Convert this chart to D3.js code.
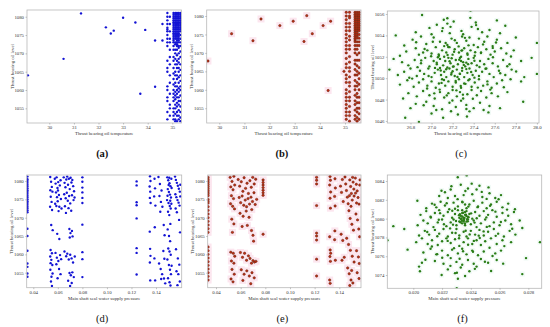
<!DOCTYPE html>
<html>
<head>
<meta charset="utf-8">
<script src="https://cdn.jsdelivr.net/npm/d3@7"></script>
<style>
body{margin:0;background:#fff}
text{font-family:"Liberation Serif","DejaVu Serif",serif}
</style>
</head>
<body>
<div id="chart"></div>
<script>
// tick labels
const tempTicks = [30,31,32,33,34,35];
const levelTicks = [1055,1060,1065,1070,1075,1080];
const tempTicksC = [26.8,27.0,27.2,27.4,27.6,27.8,28.0];
const levelTicksC = [1046,1048,1050,1052,1054,1056];
const pressTicks = [0.04,0.06,0.08,0.10,0.12,0.14];
const pressTicksF = [0.020,0.022,0.024,0.026,0.028];
const levelTicksF = [1074,1076,1078,1080,1082,1084];

// (a) temperature vs level, scattered points + dense columns
const aPoints = [[31.29,1080.9],[33.0,1079.7],[32.3,1077.1],[33.5,1078.4],[32.5,1075.4],[32.62,1076.2],[33.9,1076.4],[34.6,1078.0],[34.3,1073.5],[34.6,1073.5],[30.58,1068.5],[29.13,1064.0],[34.3,1060.9],[33.7,1059.0]];
const aColX = [34.80,34.90,35.05,35.12,35.19,35.26,35.33];
const aColY = [
 [1081,1080,1079,1078,1077,1076.5,1076,1075,1074,1073,1072,1068,1066,1065,1061,1060,1058,1057,1054,1052],
 [1080,1078,1076,1074,1073,1071,1069,1067,1064,1062,1059,1056,1055,1053],
 [1081,1080.5,1080,1079.5,1079,1078.5,1078,1077.5,1077,1076.5,1076,1075.5,1075,1074.5,1074,1073.5,1073,1072,1071,1069,1068,1066,1064.5,1063,1061.5,1060,1059,1058,1057,1055,1054,1053,1052],
 [1081,1080.5,1080,1079.5,1079,1078.5,1078,1077.5,1077,1076.5,1076,1075.5,1075,1074.5,1074,1073,1072.5,1071,1070,1068.5,1067,1065,1064,1062,1061,1059.5,1058.5,1057.5,1056,1055,1053.5,1052,1051.5],
 [1081,1080.5,1080,1079.5,1079,1078.5,1078,1077.5,1077,1076.5,1076,1075.5,1075,1074.5,1074,1073.5,1073,1072.5,1072,1071,1069.5,1068,1067,1066,1064,1063,1061,1060,1059,1058,1056.5,1055.5,1054,1053,1051.5],
 [1081,1080.5,1080,1079.5,1079,1078.5,1078,1077.5,1077,1076.5,1076,1075.5,1075,1074.5,1074,1073.5,1073,1072,1071.5,1070,1068.5,1067.5,1066,1065,1063.5,1062,1060.5,1059.5,1058,1057,1056,1054.5,1053,1052],
 [1081,1080.5,1080,1079.5,1079,1078.5,1078,1077.5,1077,1076.5,1076,1075,1074,1073,1072,1070.5,1069,1067,1065.5,1064,1062.5,1061,1060,1058.5,1057,1055.5,1054,1052.5,1051.5]
];

// (b)
const bPoints = [[29.55,1067.8],[30.49,1075.2],[31.34,1073.3],[31.66,1079.2],[32.41,1077.4],[32.94,1078.6],[33.48,1080.1],[33.37,1073.1],[33.7,1075.2],[34.13,1077.4],[34.43,1078.6],[34.33,1059.8],[34.96,1065.0]];
const bColX = [35.05,35.18,35.40,35.48,35.56];
const bColY = [
 [1081,1080,1079,1078,1077,1076,1075,1074,1073,1072,1071,1070,1068.5,1067,1066,1064,1063,1062,1060,1059,1058,1057,1056,1055,1054,1053,1052],
 [1081,1080,1079.5,1078,1077,1076,1074.5,1073.5,1072,1071,1069,1067.5,1066,1065,1063.5,1062,1061,1059.5,1058,1057,1055.5,1054,1053,1051.5],
 [1081,1080.5,1080,1079.5,1079,1078.5,1078,1077.5,1077,1076.5,1076,1075.5,1075,1074.5,1074,1073.5,1073,1072,1071,1070,1068,1067,1065.5,1064,1062.5,1061,1060,1058.5,1057,1056,1054.5,1053,1052],
 [1081,1080.5,1080,1079.5,1079,1078.5,1078,1077.5,1077,1076.5,1076,1075.5,1075,1074.5,1074,1073,1072,1071,1069.5,1068,1066.5,1065,1064,1062,1061,1059,1058,1056.5,1055,1054,1052.5,1051.5],
 [1081,1080.5,1080,1079.5,1079,1078.5,1078,1077.5,1077,1076.5,1076,1075,1074,1073,1072,1070,1068,1066,1064.5,1063,1061.5,1060,1058,1056.5,1055,1053.5,1052]
];

// (c)
const cPoints = [
 [26.91,1055.9],[27.37,1056.3],[27.21,1055.3],[27.18,1054.8],[27.15,1055.1],[27.62,1055.4],[27.05,1055.0],[27.15,1055.6],[27.42,1055.2],
 [26.66,1054.0],[27.44,1054.6],[27.48,1054.3],[26.98,1054.7],[27.1,1054.4],[27.3,1054.1],[27.55,1054.5],[27.65,1054.2],[26.85,1054.3],[27.0,1054.1],[27.38,1054.8],[27.7,1054.9],
 [26.82,1053.6],[26.95,1053.2],[27.02,1053.8],[27.08,1053.4],[27.12,1053.0],[27.19,1053.7],[27.24,1053.3],[27.29,1053.9],[27.33,1053.5],[27.4,1053.1],[27.45,1053.7],[27.5,1053.4],[27.58,1053.0],[27.62,1053.6],[27.72,1053.3],[27.8,1053.8],[26.9,1053.9],[27.15,1053.1],[27.36,1053.8],[27.53,1053.9],[28.0,1053.3],
 [26.7,1052.1],[26.76,1052.5],[26.85,1052.8],[26.88,1052.2],[26.96,1052.6],[27.0,1052.3],[27.04,1052.9],[27.07,1052.1],[27.1,1052.6],[27.14,1052.4],[27.17,1052.9],[27.2,1052.2],[27.22,1052.7],[27.26,1052.4],[27.28,1052.0],[27.31,1052.8],[27.34,1052.3],[27.37,1052.6],[27.41,1052.1],[27.44,1052.9],[27.47,1052.4],[27.52,1052.7],[27.56,1052.2],[27.6,1052.5],[27.66,1052.8],[27.71,1052.3],[27.78,1052.6],[26.92,1052.4],[27.12,1052.0],[27.29,1052.6],
 [26.64,1051.8],[26.72,1051.5],[26.78,1051.2],[26.84,1051.7],[26.9,1051.4],[26.94,1051.9],[26.98,1051.1],[27.02,1051.6],[27.05,1051.3],[27.08,1051.8],[27.11,1051.2],[27.13,1051.6],[27.16,1051.9],[27.18,1051.4],[27.21,1051.1],[27.23,1051.7],[27.25,1051.3],[27.27,1051.9],[27.3,1051.5],[27.32,1051.1],[27.35,1051.8],[27.38,1051.4],[27.4,1051.9],[27.43,1051.2],[27.46,1051.6],[27.5,1051.3],[27.54,1051.8],[27.58,1051.4],[27.63,1051.1],[27.68,1051.7],[27.74,1051.3],[27.85,1051.6],[27.95,1051.9],[27.15,1051.0],[27.28,1051.6],[27.33,1051.45],[27.06,1051.95],
 [26.6,1050.8],[26.68,1050.3],[26.74,1050.6],[26.8,1050.9],[26.86,1050.2],[26.89,1050.7],[26.93,1050.4],[26.97,1050.9],[27.0,1050.1],[27.03,1050.5],[27.06,1050.8],[27.09,1050.3],[27.12,1050.6],[27.14,1050.1],[27.17,1050.9],[27.19,1050.5],[27.22,1050.2],[27.24,1050.8],[27.27,1050.4],[27.29,1050.7],[27.31,1050.1],[27.34,1050.5],[27.36,1050.9],[27.39,1050.3],[27.42,1050.7],[27.45,1050.2],[27.48,1050.6],[27.52,1050.9],[27.55,1050.4],[27.59,1050.1],[27.64,1050.7],[27.7,1050.3],[27.76,1050.8],[27.88,1050.1],[28.0,1050.4],[27.08,1050.95],[27.2,1050.65],[27.33,1050.85],
 [26.7,1049.4],[26.77,1049.8],[26.83,1049.2],[26.88,1049.6],[26.92,1049.9],[26.96,1049.3],[27.0,1049.7],[27.04,1049.1],[27.07,1049.5],[27.1,1049.9],[27.13,1049.3],[27.16,1049.7],[27.2,1049.2],[27.23,1049.6],[27.26,1049.9],[27.28,1049.1],[27.31,1049.5],[27.35,1049.8],[27.38,1049.2],[27.41,1049.6],[27.45,1049.9],[27.49,1049.3],[27.53,1049.7],[27.57,1049.1],[27.62,1049.5],[27.67,1049.8],[27.75,1049.9],[27.85,1049.7],
 [26.73,1048.1],[26.78,1048.6],[26.86,1048.3],[26.92,1048.8],[26.98,1048.4],[27.03,1048.1],[27.08,1048.7],[27.12,1048.2],[27.16,1048.6],[27.2,1048.9],[27.24,1048.3],[27.27,1048.7],[27.3,1048.1],[27.34,1048.5],[27.38,1048.9],[27.43,1048.4],[27.47,1048.8],[27.52,1048.2],[27.57,1048.6],[27.63,1048.3],[27.72,1048.7],
 [26.8,1047.2],[26.85,1047.6],[26.95,1047.8],[27.02,1047.4],[27.1,1047.1],[27.17,1047.7],[27.23,1047.3],[27.28,1047.9],[27.33,1047.5],[27.4,1047.2],[27.46,1047.7],[27.55,1047.4],[27.65,1047.2],[27.87,1047.8],
 [26.75,1046.3],[27.11,1046.3],[26.88,1045.9],[27.54,1046.8],[27.0,1046.7],[27.25,1046.6],[27.36,1046.9],
 [27.263,1051.72],[27.187,1050.34],[27.342,1052.18],[27.118,1049.83],[27.291,1050.96],[27.214,1052.47],[27.376,1050.58],[27.049,1051.44],[27.158,1052.91],[27.322,1049.47],[27.407,1051.63],[27.087,1050.72],[27.236,1048.86],[27.469,1052.36],[26.972,1050.21],[27.134,1053.29],[27.351,1053.07],[27.198,1047.92],[27.512,1050.88],[26.934,1052.73],
 [27.284,1054.42],[27.026,1048.58],[27.439,1049.12],[27.171,1051.58],[27.306,1051.24],[27.246,1050.11],[26.867,1051.03],[27.583,1051.96],[27.068,1052.22],[27.392,1048.07],[27.221,1053.55],[27.144,1048.39],[27.489,1053.16],[27.012,1053.41],[27.331,1047.12],[26.816,1049.96],[27.652,1050.46],[27.277,1049.28],[27.106,1054.68],[27.423,1054.96],
 [26.958,1049.04],[27.558,1048.93],[27.185,1046.91],[27.368,1055.64],[26.741,1053.05],[27.719,1051.12],[27.045,1047.02],[27.612,1053.34],[26.789,1050.04],[27.803,1050.62],[27.257,1052.97],[27.139,1050.84],[27.317,1053.77],[27.203,1051.08],[27.455,1051.04],[27.095,1049.56],[27.361,1049.91],[26.902,1051.66],[27.531,1049.42],[27.173,1054.21],
 [27.298,1048.46],[26.996,1052.05],[27.414,1052.43],[27.229,1049.74],[27.077,1048.93],[27.581,1052.83],[26.854,1053.36],[27.686,1049.15],[27.336,1046.42],[27.116,1055.46],[27.494,1047.03],[26.925,1047.47],[27.754,1052.02],[27.268,1050.42],[27.191,1051.86],[27.407,1050.05],[27.033,1050.96],[27.347,1051.31],[27.152,1052.16],[27.284,1052.58]
];

// (d)
const dColX = 0.0352;
const dColY = [1081.2,1080.5,1080,1079.5,1079,1078.5,1078,1077.5,1077,1076.5,1076,1075.5,1075,1074.5,1074,1073.5,1073,1072.5,1072,1071.5,1067,1065,1061,1057.5,1056.6,1054.8,1053.9];
const dPoints = [
 [0.0538,1081.1],[0.0545,1079.8],[0.0551,1078.4],[0.0539,1077.5],[0.0556,1077.1],[0.0542,1075.7],[0.0549,1074.3],[0.0537,1073.0],[0.0553,1072.1],[0.0546,1068.0],[0.0558,1066.6],[0.0541,1061.2],[0.0552,1060.3],[0.0538,1059.4],[0.0547,1058.5],[0.0541,1057.6],[0.0555,1057.1],[0.0539,1055.8],[0.0548,1053.9],[0.0544,1052.6],[0.0552,1051.4],[0.0557,1054.8],
 [0.0575,1080.6],[0.0582,1079.3],[0.0590,1081.0],[0.0597,1078.1],[0.0603,1079.7],[0.0585,1076.9],[0.0593,1075.6],[0.0601,1077.4],[0.0609,1076.2],[0.0616,1078.8],[0.0622,1080.2],[0.0578,1073.8],[0.0588,1073.2],[0.0599,1074.5],[0.0612,1073.0],[0.0625,1075.1],[0.0630,1072.5],[0.0606,1071.8],[0.0595,1065.6],[0.0612,1064.2],[0.0581,1060.4],[0.0592,1059.1],[0.0604,1058.2],[0.0618,1059.8],[0.0627,1058.7],[0.0588,1057.3],[0.0610,1056.0],[0.0622,1054.6],[0.0598,1053.5],
 [0.0648,1081.0],[0.0655,1079.5],[0.0662,1078.3],[0.0669,1080.4],[0.0676,1081.2],[0.0683,1079.0],[0.0690,1080.6],[0.0697,1077.8],[0.0704,1080.9],[0.0711,1079.6],[0.0718,1080.3],[0.0725,1078.6],[0.0732,1077.2],[0.0652,1076.4],[0.0664,1075.3],[0.0673,1076.8],[0.0681,1074.6],[0.0692,1075.9],[0.0701,1073.9],[0.0715,1076.1],[0.0728,1074.8],[0.0736,1075.5],[0.0658,1073.1],[0.0687,1072.6],[0.0709,1071.9],[0.0666,1071.3],[0.0694,1066.9],[0.0703,1065.8],[0.0715,1066.4],[0.0697,1064.6],[0.0720,1064.9],[0.0654,1060.8],[0.0668,1059.5],[0.0677,1060.2],[0.0689,1058.6],[0.0701,1059.9],[0.0712,1058.9],[0.0724,1057.8],[0.0738,1059.4],[0.0695,1054.9],[0.0706,1054.3],[0.0718,1055.1],[0.0730,1053.8],[0.0684,1052.8],[0.0700,1051.4],[0.0713,1052.2],
 [0.0800,1081.0],[0.0800,1079.8],[0.0800,1078.2],[0.0800,1076.9],[0.0800,1075.4],[0.0800,1074.0],[0.0800,1068.1],[0.0800,1060.6],[0.0800,1058.7],[0.0800,1053.8],
 [0.1242,1079.9],[0.1242,1078.8],[0.1242,1074.2],[0.1242,1073.4],[0.1242,1069.8],[0.1242,1061.7],[0.1242,1060.4],[0.1242,1054.5],
 [0.1351,1081.3],[0.1355,1080.0],[0.1348,1078.5],[0.1353,1077.1],[0.1350,1075.4],[0.1356,1074.0],[0.1349,1066.2],[0.1352,1061.5],[0.1355,1059.6],[0.1350,1057.8],[0.1353,1052.9],[0.1388,1080.6],[0.1392,1078.0],[0.1385,1075.8],[0.1395,1073.3],[0.1390,1067.4],[0.1387,1058.9],[0.1393,1052.9],
 [0.1420,1081.1],[0.1432,1079.2],[0.1445,1077.4],[0.1428,1075.9],[0.1440,1074.3],[0.1452,1073.0],[0.1435,1071.6],[0.1463,1068.0],[0.1470,1065.2],[0.1425,1057.5],[0.1438,1056.0],[0.1450,1054.6],[0.1465,1053.4],[0.1475,1052.1],[0.1468,1058.8],[0.1460,1060.9],[0.1442,1053.3],
 [0.1492,1081.0],[0.1500,1080.2],[0.1510,1079.4],[0.1518,1078.6],[0.1496,1077.8],[0.1505,1077.0],[0.1514,1076.3],[0.1522,1075.5],[0.1490,1074.8],[0.1502,1074.0],[0.1512,1073.2],[0.1520,1072.5],[0.1498,1071.6],[0.1508,1070.7],[0.1517,1068.3],[0.1495,1066.8],[0.1506,1065.0],[0.1515,1063.6],[0.1500,1061.6],[0.1510,1060.8],[0.1520,1059.9],[0.1493,1058.6],[0.1505,1057.1],[0.1514,1055.8],[0.1522,1054.6],[0.1498,1053.5],[0.1510,1052.4],[0.1518,1051.5],[0.1525,1080.6],[0.1527,1078.1],[0.1525,1073.8],[0.1527,1056.9],[0.1503,1078.9],[0.1494,1076.0],[0.1516,1074.6],[0.1508,1080.9],
 [0.1555,1081.2],[0.1562,1080.3],[0.1570,1079.5],[0.1578,1078.7],[0.1586,1077.9],[0.1594,1077.1],[0.1558,1076.4],[0.1566,1075.6],[0.1575,1074.8],[0.1584,1074.1],[0.1592,1073.3],[0.1560,1072.5],[0.1570,1071.5],[0.1588,1069.4],[0.1596,1066.0],[0.1563,1061.4],[0.1578,1058.9],[0.1590,1057.2],[0.1567,1055.4],[0.1582,1054.6],[0.1594,1052.6],[0.1575,1051.6],[0.1598,1079.0],[0.1598,1075.8]
];

// (e)
const eColX = 0.0336;
const eColY = [1081,1080.5,1080,1079.5,1079,1078.5,1078,1077.5,1077,1076.5,1076,1075,1074.5,1074,1073,1072,1071,1070,1069,1068,1067,1066,1062,1061,1060,1059,1058,1057,1056,1055,1054,1053];
const ePoints = [
 [0.0515,1081.0],[0.0530,1079.9],[0.0545,1081.3],[0.0520,1078.4],[0.0538,1077.6],[0.0552,1078.9],[0.0525,1076.0],[0.0542,1075.2],[0.0518,1073.8],[0.0535,1073.1],[0.0550,1072.4],[0.0528,1069.6],[0.0545,1068.3],[0.0533,1066.0],[0.0520,1060.6],[0.0540,1060.3],[0.0552,1059.5],[0.0525,1058.2],[0.0545,1057.6],[0.0530,1055.9],[0.0548,1054.6],[0.0522,1053.3],[0.0538,1052.5],
 [0.0580,1080.4],[0.0592,1078.6],[0.0605,1079.8],[0.0618,1077.2],[0.0628,1080.9],[0.0640,1078.0],[0.0652,1079.4],[0.0663,1076.6],[0.0675,1080.1],[0.0686,1078.3],[0.0698,1081.0],[0.0710,1079.2],[0.0722,1080.5],[0.0588,1075.5],[0.0600,1074.1],[0.0612,1075.9],[0.0625,1073.4],[0.0637,1074.8],[0.0648,1073.0],[0.0660,1075.2],[0.0672,1073.7],[0.0684,1075.6],[0.0696,1074.4],[0.0708,1076.8],[0.0718,1073.6],[0.0730,1075.0],[0.0595,1071.2],[0.0620,1070.4],[0.0645,1071.8],[0.0668,1070.1],[0.0690,1072.2],[0.0612,1067.6],[0.0654,1067.9],[0.0688,1066.5],[0.0700,1065.2],[0.0705,1063.6],[0.0598,1060.5],[0.0615,1059.2],[0.0632,1060.3],[0.0648,1058.4],[0.0663,1059.6],[0.0676,1058.9],[0.0688,1057.6],[0.0700,1058.3],[0.0712,1057.9],[0.0724,1058.1],[0.0605,1055.8],[0.0628,1054.6],[0.0650,1055.5],[0.0670,1054.1],[0.0692,1055.0],[0.0710,1053.6],[0.0618,1052.9],[0.0682,1052.0],
 [0.0782,1080.3],[0.0782,1079.6],[0.0782,1078.9],[0.0782,1078.2],[0.0782,1077.5],[0.0782,1076.8],[0.0782,1076.1],[0.0782,1065.5],
 [0.1216,1081.0],[0.1216,1080.2],[0.1216,1079.2],[0.1216,1073.3],[0.1216,1065.8],[0.1216,1065.0],[0.1216,1063.9],[0.1216,1058.7],[0.1216,1054.1],
 [0.1325,1081.2],[0.1328,1080.2],[0.1322,1078.9],[0.1330,1077.0],[0.1325,1075.3],[0.1328,1072.6],[0.1322,1064.8],[0.1326,1061.2],[0.1330,1060.3],[0.1324,1059.4],[0.1328,1058.1],[0.1322,1053.0],[0.1326,1052.1],[0.1365,1080.6],[0.1368,1078.1],[0.1362,1075.8],[0.1366,1073.2],[0.1364,1066.4],[0.1368,1058.4],[0.1362,1064.0],
 [0.1410,1078.6],[0.1418,1076.9],[0.1425,1080.4],[0.1432,1074.4],[0.1415,1065.5],[0.1428,1063.8],[0.1422,1058.4],[0.1440,1059.2],[0.1446,1081.1],[0.1452,1079.2],[0.1458,1077.4],[0.1465,1075.6],[0.1472,1073.8],[0.1478,1071.9],[0.1485,1080.3],[0.1492,1078.5],[0.1498,1076.6],[0.1505,1074.8],[0.1512,1079.7],[0.1518,1077.8],[0.1482,1076.0],[0.1495,1073.1],[0.1508,1081.0],[0.1520,1075.9],[0.1488,1069.8],[0.1502,1068.2],[0.1515,1066.6],[0.1460,1064.4],[0.1475,1062.7],[0.1490,1061.1],[0.1505,1059.5],[0.1520,1057.9],[0.1468,1056.3],[0.1480,1054.7],[0.1495,1053.0],[0.1510,1052.2],[0.1500,1055.6],[0.1485,1051.5],[0.1530,1080.8],[0.1538,1079.1],[0.1545,1077.3],[0.1552,1075.5],[0.1560,1073.7],[0.1566,1078.9],[0.1535,1071.0],[0.1548,1069.4],[0.1558,1066.9],[0.1565,1064.8],[0.1540,1061.0],[0.1555,1059.3],[0.1562,1057.5],[0.1545,1055.0],[0.1560,1053.4],[0.1568,1080.3],[0.1540,1074.0],[0.1532,1076.7]
];

// (f)
const fPoints = [
 [0.01861,1079.2],[0.01937,1078.9],[0.0182,1077.7],[0.0196,1076.7],[0.02028,1081.9],[0.02309,1084.4],[0.02371,1084.6],[0.02881,1077.5],[0.02784,1075.8],[0.02758,1074.1],[0.02758,1079.0],[0.0274,1079.8],[0.02707,1081.0],[0.02302,1072.6],[0.02197,1074.0],[0.02046,1074.4],[0.0204,1074.9],
 [0.0222,1082.8],[0.0226,1083.1],[0.0229,1082.4],[0.0233,1083.6],[0.0238,1083.2],[0.0241,1082.6],[0.0244,1083.1],[0.0248,1082.3],[0.0253,1082.7],[0.0257,1082.2],[0.0224,1082.2],[0.0235,1082.5],[0.0246,1083.5],[0.0251,1082.1],[0.0218,1082.4],[0.0261,1082.5],
 [0.0209,1081.1],[0.0213,1081.6],[0.0216,1081.2],[0.0219,1081.8],[0.0222,1081.4],[0.0225,1081.0],[0.0228,1081.7],[0.0231,1081.3],[0.0234,1081.8],[0.0237,1081.1],[0.0239,1081.5],[0.0242,1081.9],[0.0245,1081.3],[0.0248,1081.7],[0.0251,1081.1],[0.0254,1081.5],[0.0258,1081.8],[0.0262,1081.2],[0.0266,1081.6],[0.0236,1081.5],[0.0229,1081.05],
 [0.0205,1080.4],[0.0209,1080.8],[0.0212,1080.2],[0.0215,1080.6],[0.0218,1080.9],[0.0221,1080.3],[0.0224,1080.7],[0.0227,1080.1],[0.0229,1080.5],[0.0231,1080.9],[0.0233,1080.3],[0.0234,1080.6],[0.0235,1080.1],[0.0236,1080.4],[0.0237,1080.8],[0.0238,1080.2],[0.0239,1080.5],[0.0241,1080.0],[0.0243,1080.7],[0.0246,1080.3],[0.0249,1080.8],[0.0252,1080.4],[0.0255,1080.9],[0.0258,1080.2],[0.0262,1080.6],[0.0266,1080.3],[0.027,1080.7],[0.0234,1080.9],[0.0236,1080.7],[0.0232,1080.1],
 [0.0203,1079.3],[0.0207,1079.8],[0.021,1079.5],[0.0214,1079.1],[0.0217,1079.6],[0.022,1079.9],[0.0223,1079.2],[0.0226,1079.6],[0.0228,1079.9],[0.023,1079.3],[0.0232,1079.7],[0.0234,1079.5],[0.0235,1079.9],[0.0236,1079.3],[0.0237,1079.7],[0.0238,1079.9],[0.024,1079.4],[0.0242,1079.8],[0.0244,1079.1],[0.0247,1079.5],[0.025,1079.9],[0.0253,1079.2],[0.0256,1079.6],[0.026,1079.3],[0.0264,1079.8],[0.0268,1079.4],[0.0235,1079.7],[0.0233,1079.95],
 [0.0204,1078.2],[0.0208,1078.7],[0.0211,1078.3],[0.0215,1078.8],[0.0218,1078.4],[0.0221,1078.9],[0.0224,1078.1],[0.0227,1078.5],[0.023,1078.9],[0.0232,1078.2],[0.0235,1078.6],[0.0237,1078.1],[0.024,1078.7],[0.0243,1078.3],[0.0246,1078.8],[0.0249,1078.2],[0.0252,1078.6],[0.0256,1078.9],[0.0259,1078.4],[0.0263,1078.1],[0.0267,1078.7],[0.0271,1078.3],
 [0.0202,1077.5],[0.0206,1077.9],[0.021,1077.3],[0.0213,1077.7],[0.0217,1077.2],[0.022,1077.6],[0.0223,1077.9],[0.0226,1077.4],[0.0229,1077.8],[0.0232,1077.1],[0.0235,1077.5],[0.0238,1077.9],[0.0241,1077.3],[0.0244,1077.7],[0.0247,1077.2],[0.025,1077.6],[0.0254,1077.9],[0.0258,1077.3],[0.0262,1077.7],[0.0268,1077.5],
 [0.0207,1076.4],[0.0212,1076.8],[0.0216,1076.2],[0.022,1076.6],[0.0224,1076.1],[0.0227,1076.7],[0.0231,1076.3],[0.0234,1076.8],[0.0237,1076.2],[0.0241,1076.6],[0.0245,1076.1],[0.0249,1076.5],[0.0253,1076.9],[0.0257,1076.3],[0.0261,1076.6],
 [0.0206,1075.3],[0.0215,1075.5],[0.0221,1075.2],[0.0226,1075.8],[0.023,1075.4],[0.0234,1075.1],[0.0238,1075.6],[0.0242,1075.2],[0.0247,1075.7],[0.0252,1075.3],[0.0258,1075.6],
 [0.0224,1074.6],[0.0229,1074.2],[0.0233,1074.8],[0.0239,1074.4],[0.0244,1074.9],[0.0231,1073.6],[0.0236,1073.9],
 [0.02352,1079.86],[0.02341,1080.22],[0.02366,1080.41],[0.02328,1079.62],[0.02374,1079.93],[0.02347,1080.63],[0.02318,1080.37],[0.02384,1080.14],[0.02359,1079.48],[0.02335,1080.02],[0.02297,1079.74],[0.02402,1080.56],[0.02271,1080.83],[0.02426,1079.58],[0.02256,1078.96],[0.02447,1081.22],[0.02213,1079.41],[0.02489,1078.64],[0.02186,1080.58],[0.02511,1079.12],
 [0.02239,1077.63],[0.02462,1077.94],[0.02308,1082.07],[0.02392,1078.32],[0.02167,1078.13],[0.02534,1081.36],[0.02283,1076.86],[0.02415,1076.47],[0.02148,1081.47],[0.02573,1078.17],[0.02362,1082.94],[0.02201,1075.84],[0.02609,1079.64],[0.02322,1075.73],[0.02476,1082.84],[0.02129,1077.03],[0.02633,1077.08],[0.02265,1083.44],[0.02428,1074.66],[0.02551,1076.03],
 [0.02097,1078.58],[0.02652,1080.96],[0.02381,1077.22],[0.02294,1078.47],[0.02441,1080.04],[0.02232,1081.63],[0.02508,1080.13],[0.02346,1076.53],[0.02177,1079.88],[0.02593,1082.06],[0.02122,1080.12],[0.02688,1078.93],[0.02406,1083.72],[0.02258,1074.98],[0.02541,1074.43],[0.02084,1075.62],[0.02625,1075.21],[0.02364,1078.71],[0.02318,1077.91],[0.02455,1078.19],
 [0.02196,1082.97],[0.02523,1083.32],[0.02383,1081.28],[0.02276,1079.36],[0.02421,1077.63],[0.02342,1081.74],[0.02166,1076.22],[0.02571,1080.74],[0.02303,1074.24],[0.02498,1075.41],[0.02356,1080.08],[0.02338,1079.77],[0.02369,1080.27],[0.02324,1080.48],[0.02379,1079.71]
];

function withColumns(points, colX, colY) {
  let out = points.slice();
  colX.forEach((x, i) => colY[i].forEach(y => out.push([x, y])));
  return out;
}

const styles = {
  blue:  {fill:"#1414d4", stroke:"none", halo:null, hs:0},
  red:   {fill:"#c42a16", stroke:"#5c2c12", halo:"#fce6ef", hs:7},
  green: {fill:"#2a7c16", stroke:"none", halo:"#f1faf6", hs:5}
};

const tempLabel = "Thrust bearing oil temperature";
const pressLabel = "Main shaft seal water supply pressure";
const levelLabel = "Thrust bearing oil level";

const panels = [
  {id:"a", pts:withColumns(aPoints,aColX,aColY), box:[27,10,181.5,123], xd:[29.094,35.374], yd:[1051.0,1081.83], xt:tempTicks, yt:levelTicks, fmt:d3.format("d"), xl:tempLabel, cap:"(a)", bold:true, st:"blue"},
  {id:"b", pts:withColumns(bPoints,bColX,bColY), box:[206.7,10,361,123], xd:[29.5,35.637], yd:[1051.0,1081.63], xt:tempTicks, yt:levelTicks, fmt:d3.format("d"), xl:tempLabel, cap:"(b)", bold:true, st:"red"},
  {id:"c", pts:cPoints, box:[387.3,11,539,123], xd:[26.58,28.02], yd:[1045.81,1056.28], xt:tempTicksC, yt:levelTicksC, fmt:d3.format(".1f"), xl:tempLabel, cap:"(c)", bold:false, st:"green"},
  {id:"d", pts:withColumns(dPoints,[dColX],[dColY]), box:[26.7,175,181.7,287.7], xd:[0.03462,0.16094], yd:[1050.91,1081.64], xt:pressTicks, yt:levelTicks, fmt:d3.format(".2f"), xl:pressLabel, cap:"(d)", bold:false, st:"blue"},
  {id:"e", pts:withColumns(ePoints,[eColX],[eColY]), box:[207.7,175,361,287.7], xd:[0.03327,0.1576], yd:[1050.91,1081.64], xt:pressTicks, yt:levelTicks, fmt:d3.format(".2f"), xl:pressLabel, cap:"(e)", bold:false, st:"red"},
  {id:"f", pts:fPoints, box:[387.3,175,541.7,288.3], xd:[0.01819,0.02893], yd:[1072.59,1084.64], xt:pressTicksF, yt:levelTicksF, fmt:d3.format(".3f"), xl:pressLabel, cap:"(f)", bold:false, st:"green"}
];

const svg = d3.select("#chart").append("svg")
  .attr("width", 550).attr("height", 327);
svg.append("rect").attr("width",550).attr("height",327).attr("fill","#fff");
const defs = svg.append("defs");

panels.forEach(p => {
  const [x0, y0, x1, y1] = p.box;
  const st = styles[p.st];
  const xScale = d3.scaleLinear().domain(p.xd).range([x0, x1]);
  const yScale = d3.scaleLinear().domain(p.yd).range([y1, y0]);

  defs.append("clipPath").attr("id","clip-"+p.id)
    .append("rect").attr("x",x0).attr("y",y0).attr("width",x1-x0).attr("height",y1-y0);

  const g = svg.append("g").attr("clip-path","url(#clip-"+p.id+")");
  if (st.halo) {
    g.selectAll("rect.halo").data(p.pts).enter().append("rect")
      .attr("class","halo")
      .attr("x", d => xScale(d[0]) - st.hs/2).attr("y", d => yScale(d[1]) - st.hs/2)
      .attr("width", st.hs).attr("height", st.hs)
      .attr("fill", st.halo);
  }
  g.selectAll("circle").data(p.pts).enter().append("circle")
    .attr("cx", d => xScale(d[0]))
    .attr("cy", d => yScale(d[1]))
    .attr("r", 1.2)
    .attr("fill", st.fill)
    .attr("stroke", st.stroke)
    .attr("stroke-width", 0.5);

  // frame
  svg.append("rect").attr("x",x0).attr("y",y0).attr("width",x1-x0).attr("height",y1-y0)
    .attr("fill","none").attr("stroke","#b8b8b8").attr("stroke-width",0.8);

  const xAxis = d3.axisBottom(xScale).tickValues(p.xt).tickFormat(p.fmt).tickSize(1.5).tickPadding(1);
  const yAxis = d3.axisLeft(yScale).tickValues(p.yt).tickFormat(d3.format("d")).tickSize(1.5).tickPadding(1.5);
  const gx = svg.append("g").attr("transform", `translate(0,${y1})`).call(xAxis);
  const gy = svg.append("g").attr("transform", `translate(${x0},0)`).call(yAxis);
  [gx, gy].forEach(a => {
    a.select(".domain").remove();
    a.selectAll("line").attr("stroke","#888").attr("stroke-width",0.5);
    a.selectAll("text").attr("font-family","Liberation Serif, serif").attr("font-size",4.8).attr("fill","#333");
  });

  svg.append("text")
    .text(p.xl)
    .attr("x", (x0 + x1) / 2).attr("y", y1 + 12)
    .attr("text-anchor","middle").attr("font-size",4.8).attr("fill","#333");
  svg.append("text")
    .text(levelLabel)
    .attr("transform", `translate(${x0 - 15},${(y0 + y1) / 2}) rotate(-90)`)
    .attr("text-anchor","middle").attr("dy","0.35em").attr("font-size",4.8).attr("fill","#333");
  svg.append("text")
    .text(p.cap)
    .attr("x", (x0 + x1) / 2 - 2).attr("y", y1 + 34)
    .attr("text-anchor","middle").attr("font-size",10.5)
    .attr("font-weight", p.bold ? "bold" : "normal").attr("fill","#111");
});
</script>
</body>
</html>
